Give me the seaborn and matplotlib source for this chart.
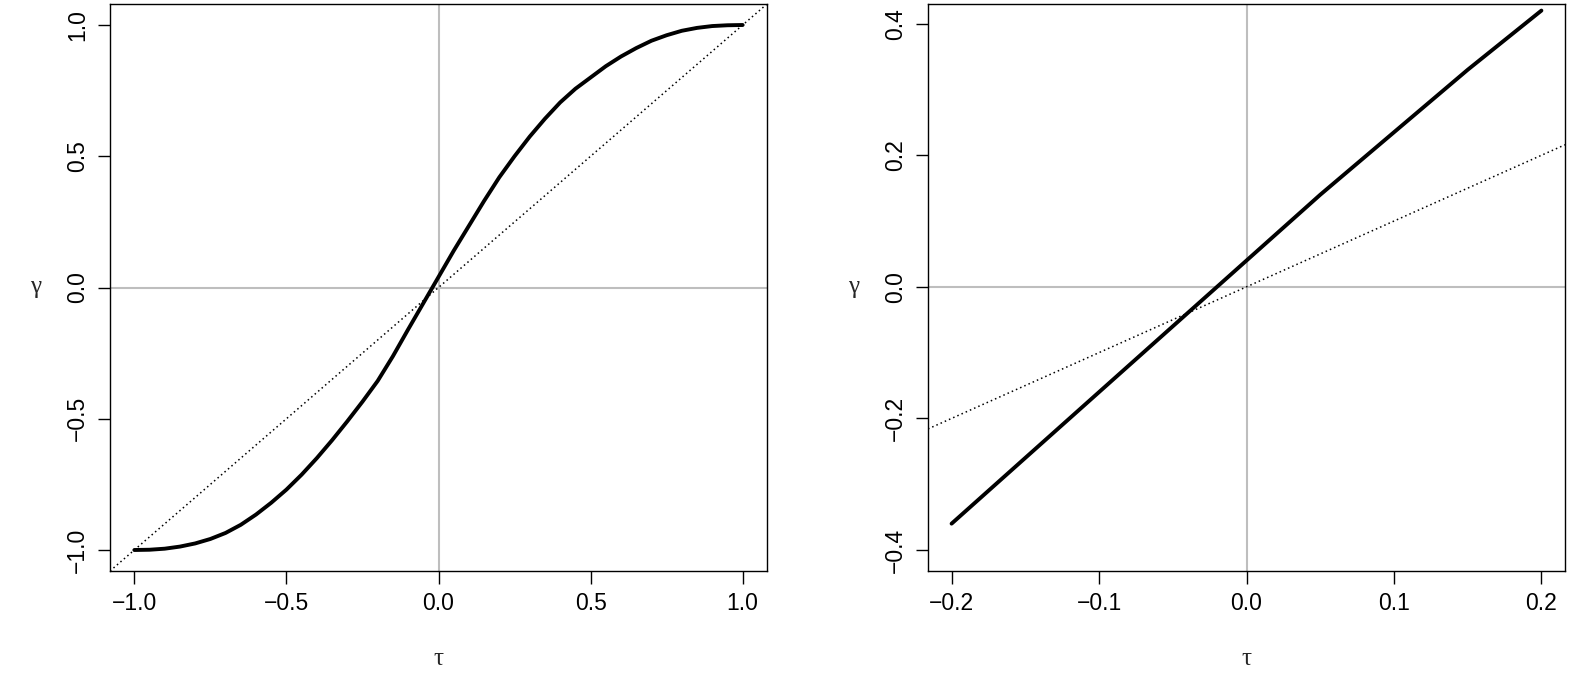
import numpy as np
import pandas as pd
import seaborn as sns
import matplotlib.pyplot as plt

# values
tau_full = [-1.0, -0.95, -0.9, -0.85, -0.8, -0.75, -0.7, -0.65, -0.6, -0.55, -0.5, -0.45,
            -0.4, -0.35, -0.3, -0.25, -0.2, -0.15, -0.1, -0.05, 0.0,
            0.05, 0.1, 0.15, 0.2, 0.25, 0.3, 0.35, 0.4, 0.45, 0.5, 0.55,
            0.6, 0.65, 0.7, 0.75, 0.8, 0.85, 0.9, 0.95, 1.0]
gamma_full = [-1.0, -0.999, -0.995, -0.987, -0.975, -0.958, -0.935, -0.904, -0.865, -0.82, -0.77, -0.713,
              -0.65, -0.582, -0.51, -0.435, -0.356, -0.262, -0.16, -0.06, 0.04,
              0.14, 0.235, 0.33, 0.42, 0.5, 0.575, 0.643, 0.705, 0.757, 0.80, 0.843,
              0.88, 0.912, 0.94, 0.961, 0.978, 0.989, 0.996, 0.999, 1.0]
tau_zoom = [-0.2, -0.15, -0.1, -0.05, 0.0, 0.05, 0.1, 0.15, 0.2]
gamma_zoom = [-0.36, -0.26, -0.16, -0.06, 0.04, 0.14, 0.235, 0.33, 0.42]

sns.set_style("ticks")
plt.rcParams['font.family'] = ['Liberation Sans', 'DejaVu Sans']

fig = plt.figure(figsize=(15.73, 6.99), dpi=100)
ax1 = fig.add_axes([110/1573, 1-571/699, 657/1573, 567/699])
ax2 = fig.add_axes([928/1573, 1-571/699, 637/1573, 567/699])

panels = [
    (ax1, tau_full, gamma_full, (-1.08, 1.08), (-1.08, 1.08),
     [-1.0, -0.5, 0.0, 0.5, 1.0], [-1.0, -0.5, 0.0, 0.5, 1.0]),
    (ax2, tau_zoom, gamma_zoom, (-0.216, 0.216), (-0.432, 0.430),
     [-0.2, -0.1, 0.0, 0.1, 0.2], [-0.4, -0.2, 0.0, 0.2, 0.4]),
]
for ax, t, g, xl, yl, xt, yt in panels:
    ax.axhline(0, color='#bebebe', lw=1.5, zorder=1)
    ax.axvline(0, color='#bebebe', lw=1.5, zorder=1)
    ax.axline((0, 0), slope=1, color='black', lw=1.1, ls=(0, (1, 2)), zorder=2)
    df = pd.DataFrame({'tau': t, 'gamma': g})
    sns.lineplot(data=df, x='tau', y='gamma', ax=ax, color='black', lw=2.8, zorder=3)
    ax.set_xlim(*xl)
    ax.set_ylim(*yl)
    ax.set_xticks(xt)
    ax.set_yticks(yt)
    ax.set_xticklabels([f'{v:.1f}'.replace('-', '\u2212') for v in xt], fontsize=16.5)
    ax.set_yticklabels([f'{v:.1f}'.replace('-', '\u2212') for v in yt], fontsize=16.5,
                       rotation=90, va='center')
    ax.tick_params(length=9, width=1, pad=6, colors='black')
    ax.set_xlabel('τ', family='Liberation Serif', fontsize=18, labelpad=24)
    ax.set_ylabel('γ', family='Liberation Serif', fontsize=18, labelpad=22, rotation=0, va='center')
    for s in ax.spines.values():
        s.set_linewidth(1)
        s.set_color('black')

fig.savefig('out.png', dpi=100)
